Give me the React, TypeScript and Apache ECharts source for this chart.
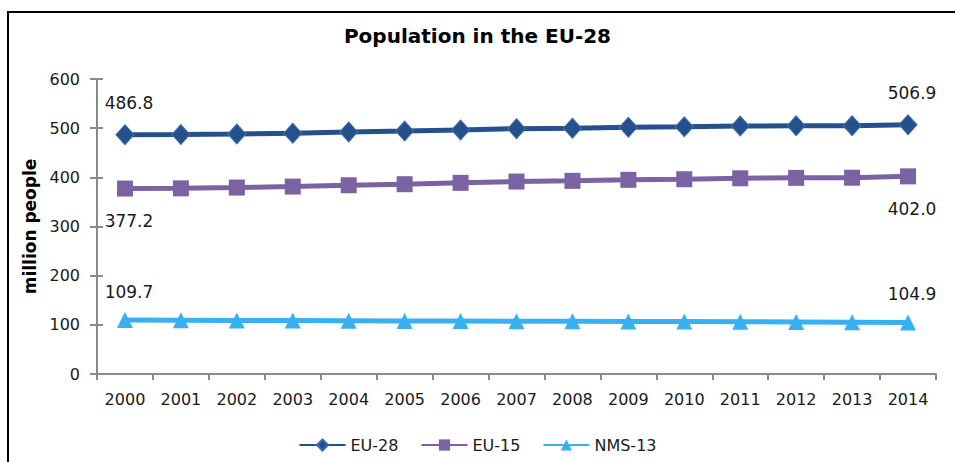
import React, { useEffect, useRef } from "react";
import * as echarts from "echarts";

const years = ["2000","2001","2002","2003","2004","2005","2006","2007","2008","2009","2010","2011","2012","2013","2014"];
const eu28 = [486.8, 487.0, 488.2, 489.9, 492.3, 494.0, 496.5, 498.9, 500.0, 501.8, 502.7, 504.3, 504.7, 505.0, 506.9];
const eu15 = [377.2, 377.6, 379.2, 381.2, 383.9, 386.0, 388.8, 391.4, 392.8, 394.9, 396.1, 398.1, 398.9, 399.2, 402.0];
const nms13 = [109.7, 109.4, 109.0, 108.7, 108.4, 108.0, 107.7, 107.5, 107.2, 106.9, 106.6, 106.2, 105.8, 105.4, 104.9];
const seriesNames = ["EU-28", "EU-15", "NMS-13"];
const titleText = "Population in the EU-28";
const yAxisName = "million people";

const FONT = "'DejaVu Sans', Verdana, sans-serif";

function labelled(values: number[], position: string, distance: number) {
  const last = values.length - 1;
  return values.map((v, i) => ({
    value: v,
    label: {
      show: i === 0 || i === last,
      position,
      distance,
      offset: [4, 0],
      formatter: (p: any) => Number(p.value).toFixed(1),
      color: "#1a1a1a",
      fontSize: 17,
      fontFamily: FONT,
    },
  }));
}

export default function App() {
  const ref = useRef<HTMLDivElement>(null);
  useEffect(() => {
    if (!ref.current) return;
    const chart = echarts.init(ref.current, undefined, { renderer: "svg" });
    const axisGray = "#8a8a8a";
    chart.setOption({
      animation: false,
      backgroundColor: "#ffffff",
      title: {
        text: titleText,
        left: "center",
        top: 21,
        textStyle: { fontFamily: FONT, fontWeight: "bold", fontSize: 20, color: "#000" },
      },
      graphic: [
        { type: "line", shape: { x1: 7, y1: 12, x2: 955, y2: 12 }, style: { stroke: "#000", lineWidth: 2 } },
        { type: "line", shape: { x1: 8, y1: 11, x2: 8, y2: 462 }, style: { stroke: "#000", lineWidth: 2 } },
      ],
      legend: {
        data: seriesNames,
        bottom: 4,
        left: "center",
        itemWidth: 46,
        itemHeight: 14,
        itemGap: 22,
        textStyle: { fontFamily: FONT, fontSize: 16, color: "#1a1a1a" },
      },
      grid: { left: 97, right: 19, top: 79, bottom: 88, containLabel: false },
      xAxis: {
        type: "category",
        data: years,
        boundaryGap: true,
        axisLine: { lineStyle: { color: axisGray, width: 2 } },
        axisTick: { show: true, length: 6, lineStyle: { color: axisGray, width: 2 } },
        axisLabel: { margin: 17, fontFamily: FONT, fontSize: 16, color: "#1a1a1a", interval: 0 },
      },
      yAxis: [
        {
          type: "value",
          min: 0,
          max: 600,
          interval: 100,
          name: yAxisName,
          nameLocation: "middle",
          nameGap: 57,
          nameTextStyle: { fontFamily: FONT, fontWeight: "bold", fontSize: 17, color: "#000" },
          axisLine: { show: true, lineStyle: { color: axisGray, width: 2 } },
          axisTick: { show: true, length: 7, lineStyle: { color: axisGray, width: 2 } },
          axisLabel: { margin: 17, fontFamily: FONT, fontSize: 16, color: "#1a1a1a" },
          splitLine: { show: false },
        },
        {
          type: "value",
          min: 0,
          max: 600,
          interval: 100,
          position: "left",
          axisLine: { show: false },
          axisTick: { show: true, inside: true, length: 6, lineStyle: { color: axisGray, width: 2 } },
          axisLabel: { show: false },
          splitLine: { show: false },
        },
      ],
      series: [
        {
          name: seriesNames[0],
          type: "line",
          data: labelled(eu28, "top", 13),
          symbol: "diamond",
          symbolSize: [18, 20],
          lineStyle: { color: "#24508C", width: 5 },
          itemStyle: { color: "#24508C", borderColor: "#3d6fae", borderWidth: 1 },
          z: 3,
        },
        {
          name: seriesNames[1],
          type: "line",
          data: labelled(eu15, "bottom", 16),
          symbol: "rect",
          symbolSize: 16,
          lineStyle: { color: "#7A62A3", width: 5 },
          itemStyle: { color: "#7A62A3" },
          z: 3,
        },
        {
          name: seriesNames[2],
          type: "line",
          data: labelled(nms13, "top", 12),
          symbol: "triangle",
          symbolSize: 16,
          lineStyle: { color: "#37B1F1", width: 5 },
          itemStyle: { color: "#37B1F1" },
          z: 3,
        },
      ],
    });
    return () => chart.dispose();
  }, []);
  return (
    <div
      ref={ref}
      style={{ position: "absolute", left: 0, top: 0, width: 955, height: 462, background: "#fff" }}
    />
  );
}
